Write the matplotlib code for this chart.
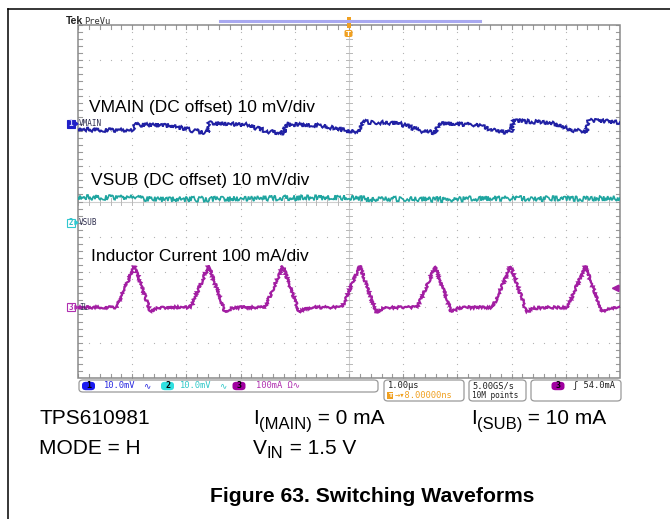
import numpy as np
import matplotlib
matplotlib.use("Agg")
import matplotlib.pyplot as plt
from matplotlib.patches import FancyBboxPatch, Rectangle, Polygon
from matplotlib.lines import Line2D

# ---------------- scope settings ----------------
time_per_div_us = 1.0
channel_names = ["VMAIN", "VSUB", "IL"]
channel_scales = [10.0, 10.0, 100.0]          # mV/div, mV/div, mA/div
channel_positions_div = [2.2, -0.6, -3.0]     # ground markers in divisions
channel_colors = ["#2020a4", "#1fa5a0", "#a21ea2"]
trigger_level_ma = 54.0

# ---------------- inductor current (mA) ----------------
il_peak_times_us = [-3.96, -2.59, -1.22, 0.20, 1.59, 2.98, 4.36]
il_peak_ma = [117, 118, 117, 118, 116, 117, 117]
il_rise_us = 0.33
il_fall_us = 0.30
il_undershoot_ma = -13
il_settle_ma = -3

# ---------------- VMAIN ripple (mV) ----------------
vmain_t_us = [-5.0, -3.97, -3.95, -3.3, -2.85, -2.60, -2.58, -1.9, -1.45, -1.19,
              -1.17, -0.5, -0.05, 0.21, 0.23, 0.9, 1.35, 1.62, 1.64, 2.3,
              2.75, 3.00, 3.02, 3.7, 4.15, 4.39, 4.41, 5.0]
vmain_mv = [-1.6, -1.9, -0.2, -0.5, -2.0, -2.5, 0.2, -0.3, -2.3, -2.5,
            -0.2, -0.5, -2.0, -2.2, 0.6, 0.2, -2.0, -2.5, 0.2, -0.2,
            -2.0, -2.5, 0.9, 0.4, -1.8, -2.2, 0.9, 0.5]

# ---------------- VSUB ripple (mV) ----------------
vsub_t_us = [-5.0, -4.0, -3.6, -2.0, -1.4, 0.0, 0.4, 1.0, 1.8, 2.4, 3.5, 5.0]
vsub_mv = [7.1, 7.2, 6.6, 6.7, 7.0, 7.1, 6.6, 6.8, 6.5, 6.9, 6.8, 6.9]

W, H = 670, 519
fig = plt.figure(figsize=(W / 100, H / 100), dpi=100)
fig.patch.set_facecolor("white")
renderer = fig.canvas.get_renderer()


def fx(px):
    return px / W


def fy(py):
    return 1 - py / H


# page frame
fig.add_artist(Line2D([fx(8), fx(670)], [fy(9), fy(9)], color="black", lw=1.1))
fig.add_artist(Line2D([fx(8), fx(8)], [fy(9), fy(519)], color="black", lw=1.1))

# graticule axes: 10 x 10 divisions
gl, gr, gt, gb = 78, 620, 25, 378
ax = fig.add_axes([fx(gl), fy(gb), (gr - gl) / W, (gb - gt) / H])
ax.set_xlim(-5, 5)
ax.set_ylim(-5, 5)
ax.axis("off")

grid_col = "#b4b4b4"
fine = np.round(np.arange(-5, 5.001, 0.2), 3)
for g in range(-4, 5):
    if g == 0:
        continue
    ax.plot(np.full_like(fine, g), fine, ls="none", marker="s", ms=0.8,
            color=grid_col, mew=0, zorder=1)
    ax.plot(fine, np.full_like(fine, g), ls="none", marker="s", ms=0.8,
            color=grid_col, mew=0, zorder=1)

ax.axvline(0, color="#cfcfcf", lw=0.8, zorder=1)
ax.axhline(0, color="#cfcfcf", lw=0.8, zorder=1)
for v in fine:
    ax.plot([-0.06, 0.06], [v, v], color="#b8b8b8", lw=0.7, zorder=1)
    ax.plot([v, v], [-0.09, 0.09], color="#b8b8b8", lw=0.7, zorder=1)
    # border ticks
    ax.plot([v, v], [5, 4.9], color="#9a9a9a", lw=0.8, zorder=1)
    ax.plot([v, v], [-5, -4.9], color="#9a9a9a", lw=0.8, zorder=1)
    ax.plot([-5, -4.93], [v, v], color="#9a9a9a", lw=0.8, zorder=1)
    ax.plot([5, 4.93], [v, v], color="#9a9a9a", lw=0.8, zorder=1)
ax.add_patch(Rectangle((-5, -5), 10, 10, fill=False, ec="#8a8a8a", lw=1.1,
                       zorder=2, clip_on=False))

# build the inductor current polyline from the pulse list
il_t = [-5.0]
il_v = [0.0]
for tp, pk in zip(il_peak_times_us, il_peak_ma):
    il_t += [tp - il_rise_us, tp, tp + il_fall_us, tp + il_fall_us + 0.12,
             tp + il_fall_us + 0.3]
    il_v += [0.0, pk, il_undershoot_ma, il_settle_ma, 0.0]
il_t.append(5.0)
il_v.append(0.0)

# (time, value, channel, noise px, line width)
traces = [
    (vmain_t_us, vmain_mv, 0, 2.0, 1.4),
    (vsub_t_us, vsub_mv, 1, 2.6, 1.2),
    (il_t, il_v, 2, 1.2, 1.6),
]
for t, v, ch, noise, lw in traces:
    y = np.asarray(v) / channel_scales[ch] + channel_positions_div[ch]
    x = np.asarray(t) / time_per_div_us
    ln, = ax.plot(x, y, color=channel_colors[ch], lw=lw, zorder=4,
                  solid_joinstyle="miter")
    ln.set_sketch_params(scale=noise, length=0.9, randomness=3)

# waveform captions
cap_font = dict(family="Liberation Sans", size=12.5, color="black", zorder=6)
ax.text(-4.80, 2.54, "VMAIN (DC offset) 10 mV/div", **cap_font)
ax.text(-4.76, 0.47, "VSUB (DC offset) 10 mV/div", **cap_font)
ax.text(-4.76, -1.69, "Inductor Current 100 mA/div", **cap_font)

# trigger level marker at right edge
tl = trigger_level_ma / channel_scales[2] + channel_positions_div[2]
ax.add_patch(Polygon([[4.86, tl], [4.98, tl + 0.09], [4.98, tl - 0.09]],
                     closed=True, color=channel_colors[2], zorder=5,
                     clip_on=False))

# channel ground markers
mono = ["DejaVu Sans Mono", "DejaVu Sans"]
marker_y = [201.5 - p * 35.3 for p in channel_positions_div]
marker_fill = ["#2020c8", "white", "white"]
marker_edge = ["#2020c8", "#30c8d0", "#b030b0"]
marker_txt = ["#d0d0ff", "#30c0c8", "#b030b0"]
for i, my in enumerate(marker_y):
    fig.add_artist(FancyBboxPatch((fx(67), fy(my + 4)), 8 / W, 8 / H,
                                  boxstyle="square,pad=0",
                                  fc=marker_fill[i], ec=marker_edge[i], lw=0.8))
    fig.add_artist(Polygon([[fx(75), fy(my - 2)], [fx(78), fy(my)],
                            [fx(75), fy(my + 2)]], closed=True,
                           color=marker_edge[i]))
    fig.text(fx(71), fy(my), str(i + 1), ha="center", va="center",
             family=mono, size=5.5, color=marker_txt[i], weight="bold")
    fig.text(fx(79), fy(my), channel_names[i], ha="left", va="center",
             family=mono, size=5.5, color="#303050", zorder=7)

# header
fig.text(fx(66), fy(24), "Tek", family="Liberation Sans", weight="bold",
         size=7.5, color="#222222", va="baseline")
fig.text(fx(84), fy(24), "PreVu", family=mono, size=6.3, color="#333333",
         va="baseline")
fig.add_artist(Line2D([fx(220), fx(480)], [fy(20.7), fy(20.7)],
                      color="#a8a8f0", lw=2.2))
orange = "#f0a020"
fig.add_artist(Rectangle((fx(347), fy(28)), 3.5 / W, 11 / H, fc=orange,
                         ec="none"))
fig.add_artist(FancyBboxPatch((fx(344.5), fy(37)), 8 / W, 7 / H,
                              boxstyle="round,pad=0,rounding_size=0.003",
                              fc=orange, ec="none"))
fig.text(fx(348.5), fy(33.5), "T", ha="center", va="center", size=5,
         color="white", weight="bold", family="DejaVu Sans")


# status bar
def status_box(x0, x1, y0, y1):
    fig.add_artist(FancyBboxPatch((fx(x0), fy(y1)), (x1 - x0) / W,
                                  (y1 - y0) / H,
                                  boxstyle="round,pad=0,rounding_size=0.006",
                                  fc="white", ec="#9a9a9a", lw=0.9))


def oval(xc, yc, col, label):
    fig.add_artist(FancyBboxPatch((fx(xc - 6.5), fy(yc + 4.2)), 13 / W,
                                  8.4 / H,
                                  boxstyle="round,pad=0,rounding_size=0.006",
                                  fc=col, ec="none"))
    fig.text(fx(xc), fy(yc), label, ha="center", va="center", size=6,
             family=mono, color="black", weight="bold")


status_box(79, 378, 380, 392)
status_box(384, 464, 380, 401)
status_box(469, 526, 380, 401)
status_box(531, 621, 380, 401)

row1, row2 = 386, 395.5
st = dict(family=mono, size=6.3, va="center")
oval(88.5, row1, "#1a1af0", "1")
fig.text(fx(104), fy(row1), "10.0mV", color="#2a2ae0", **st)
fig.text(fx(143), fy(row1), "\u223f", color="#2a2ae0", **st)
oval(167.5, row1, "#30e0e0", "2")
fig.text(fx(180), fy(row1), "10.0mV", color="#30c8c8", **st)
fig.text(fx(219), fy(row1), "\u223f", color="#30c8c8", **st)
oval(239, row1, "#a000a0", "3")
fig.text(fx(256), fy(row1), "100mA \u03a9\u223f", color="#b030b0", **st)

fig.text(fx(388), fy(row1), "1.00\u00b5s", color="#202020", **st)
fig.add_artist(Rectangle((fx(387.5), fy(row2 + 3.5)), 6 / W, 7 / H,
                         fc=orange, ec="none"))
fig.text(fx(390.5), fy(row2), "T", ha="center", color="white", size=4.5,
         family="DejaVu Sans", weight="bold", va="center")
fig.text(fx(394.5), fy(row2), "\u2192\u25be8.00000ns", color=orange, **st)

fig.text(fx(472.5), fy(row1), "5.00GS/s", color="#202020", **st)
fig.text(fx(472.5), fy(row2), "10M points", color="#202020",
         family=mono, size=5.6, va="center")

oval(558, row1, "#a000a0", "3")
fig.text(fx(573), fy(row1), "\u0283 54.0mA", color="#202020", **st)


# operating conditions, with hand-placed subscripts
def rich_text(x_px, y_px, parts):
    x = x_px
    for txt, size, drop in parts:
        t = fig.text(fx(x), fy(y_px + drop), txt, family="Liberation Sans",
                     size=size, color="black", va="baseline", ha="left")
        bb = t.get_window_extent(renderer)
        x += bb.width


main_sz, sub_sz = 15, 12
rich_text(39, 424, [("TPS610981", main_sz, 0)])
rich_text(39, 454, [("MODE = H", main_sz, 0)])
rich_text(253, 424, [("I", main_sz, 0), ("(MAIN)", sub_sz, 4.5),
                     (" = 0 mA", main_sz, 0)])
rich_text(253, 454, [("V", main_sz, 0), ("IN", sub_sz, 4.5),
                     (" = 1.5 V", main_sz, 0)])
rich_text(471, 424, [("I", main_sz, 0), ("(SUB)", sub_sz, 4.5),
                     (" = 10 mA", main_sz, 0)])

fig.text(fx(372.5), fy(502), "Figure 63. Switching Waveforms", ha="center",
         va="baseline", family="Liberation Sans", weight="bold", size=15.2)

fig.savefig("out.png", dpi=100, facecolor="white")
